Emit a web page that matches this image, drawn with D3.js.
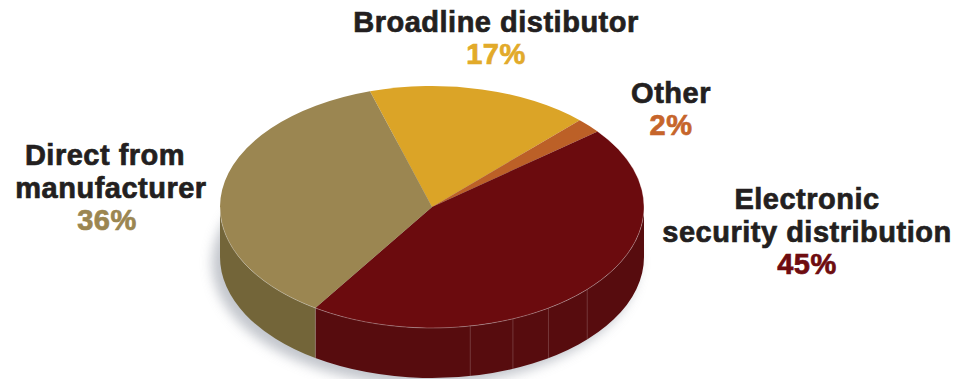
<!DOCTYPE html>
<html>
<head>
<meta charset="utf-8">
<script src="https://cdn.jsdelivr.net/npm/d3@7"></script>
<style>
  html, body { margin: 0; padding: 0; background: #fff; }
  svg { display: block; }
  text { font-family: "Liberation Sans", Arial, sans-serif; font-weight: bold; }
</style>
</head>
<body>
<svg id="chart" width="955" height="379"></svg>
<script>
// data, clockwise from the gold slice
const categories = ['Broadline distibutor', 'Other', 'Electronic security distribution', 'Direct from manufacturer'];
const shares = [17, 2, 45, 36];
const labelLines = [['Broadline distibutor'], ['Other'], ['Electronic', 'security distribution'], ['Direct from', 'manufacturer']];

const topColors = ['#dba427', '#bc6027', '#6b0b0e', '#9b8651'];
const sideColors = ['#b3861f', '#9a4e1f', '#570c0e', '#736539'];
const valueColors = ['#e2aa2a', '#c6652b', '#6e0c10', '#9b8651'];

const svg = d3.select('#chart');
const cx = 432, cy = 207, rx = 212, ry = 121, depth = 50;
const start = -0.297;

const pt = (a, dy = 0) => [cx + rx * Math.sin(a), cy - ry * Math.cos(a) + dy];

const pie = d3.pie().sort(null).value(d => d)
  .startAngle(start).endAngle(start + 2 * Math.PI);
const arcs = pie(shares);

// soft shadow under the disc
const defs = svg.append('defs');
defs.append('filter').attr('id', 'blur')
  .attr('x', '-20%').attr('y', '-20%').attr('width', '140%').attr('height', '140%')
  .append('feGaussianBlur').attr('stdDeviation', 6);

svg.append('ellipse')
  .attr('cx', cx - 7).attr('cy', cy + depth + 6)
  .attr('rx', rx + 1).attr('ry', ry + 1)
  .attr('fill', '#b4b8c0').attr('opacity', 0.8)
  .attr('filter', 'url(#blur)');

// side walls, only the front half is visible
const lo = Math.PI / 2, hi = 3 * Math.PI / 2;
const seam = 'rgba(255,255,255,0.3)';
const sides = svg.append('g');
arcs.forEach((d, i) => {
  const s0 = Math.max(d.startAngle, lo), s1 = Math.min(d.endAngle, hi);
  if (s1 <= s0) return;
  const p0 = pt(s0), p1 = pt(s1), q1 = pt(s1, depth), q0 = pt(s0, depth);
  sides.append('path')
    .attr('d', `M${p0} A${rx},${ry} 0 0 1 ${p1} L${q1} A${rx},${ry} 0 0 0 ${q0} Z`)
    .attr('fill', sideColors[i]);
});

// facet seams on the wall: slice edges plus the render's panel joins
const seamAngles = arcs.map(d => d.endAngle).filter(a => a > lo && a < hi)
  .concat([2.96, 2.75, 2.56, 2.32]);
seamAngles.forEach(a => {
  sides.append('line')
    .attr('x1', pt(a)[0]).attr('y1', pt(a)[1])
    .attr('x2', pt(a, depth)[0]).attr('y2', pt(a, depth)[1])
    .attr('stroke', seam).attr('stroke-width', 0.6);
});

// top face
const tops = svg.append('g');
arcs.forEach((d, i) => {
  const a0 = d.startAngle, a1 = d.endAngle;
  const large = (a1 - a0) > Math.PI ? 1 : 0;
  tops.append('path')
    .attr('d', `M${cx},${cy} L${pt(a0)} A${rx},${ry} 0 ${large} 1 ${pt(a1)} Z`)
    .attr('fill', topColors[i]);
});

// light rim along the front edge
const rimFrom = 0.9;
svg.append('path')
  .attr('d', `M${pt(rimFrom)} A${rx},${ry} 0 ${hi - rimFrom > Math.PI ? 1 : 0} 1 ${pt(hi)}`)
  .attr('fill', 'none')
  .attr('stroke', 'rgba(255,255,255,0.4)')
  .attr('stroke-width', 0.7);

// labels
const labelPos = [[496, 32], [671, 103], [807, 209], [111, 165]];
const lineGap = 33;
const labels = svg.append('g');
labelLines.forEach((lines, i) => {
  const [x, y] = labelPos[i];
  const t = labels.append('text')
    .attr('text-anchor', 'middle')
    .attr('font-size', 29)
    .attr('letter-spacing', 0.5)
    .attr('stroke-width', 0.7)
    .attr('paint-order', 'stroke');
  lines.forEach((line, j) => {
    t.append('tspan').attr('x', x - (i === 3 && j === 0 ? 6 : 0)).attr('y', y + j * lineGap)
      .attr('fill', '#231f20').attr('stroke', '#231f20').text(line);
  });
  t.append('tspan').attr('x', x - (i === 3 ? 4 : 0)).attr('y', y + lines.length * lineGap - 1)
    .attr('fill', valueColors[i]).attr('stroke', valueColors[i]).text(shares[i] + '%');
});
</script>
</body>
</html>
